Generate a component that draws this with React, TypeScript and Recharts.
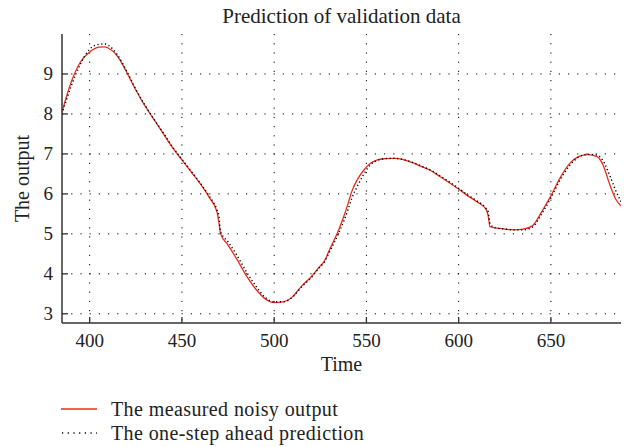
import { CartesianGrid, Label, Line, LineChart, XAxis, YAxis } from 'recharts'

// 時刻（サンプル番号）
const time = [
  385, 390, 395, 400, 405, 408, 410, 415, 420, 425, 430, 435, 440, 445, 450, 455, 460, 465, 469, 470,
  471, 475, 480, 485, 490, 495, 500, 505, 510, 515, 520, 525, 527, 530, 535, 538, 540, 542, 545, 548,
  552, 556, 560, 565, 570, 575, 580, 585, 590, 595, 600, 605, 610, 615, 616, 617, 620, 625, 630, 635,
  640, 645, 650, 655, 660, 665, 670, 675, 678, 682, 685, 688,
]

// 測定値（ノイズあり）
const measured = [
  8.05, 8.8, 9.3, 9.55, 9.67, 9.68, 9.65, 9.45, 9.05, 8.6, 8.2, 7.85, 7.5, 7.15, 6.85, 6.55, 6.25, 5.9, 5.55, 5.3,
  5.0, 4.72, 4.35, 3.95, 3.62, 3.38, 3.28, 3.3, 3.43, 3.7, 3.92, 4.2, 4.3, 4.6, 5.1, 5.47, 5.75, 6.05, 6.35, 6.56,
  6.76, 6.85, 6.88, 6.89, 6.86, 6.78, 6.68, 6.58, 6.43, 6.28, 6.12, 5.95, 5.8, 5.6, 5.45, 5.18, 5.15, 5.12, 5.1, 5.12,
  5.2, 5.55, 5.95, 6.4, 6.75, 6.93, 6.98, 6.93, 6.75, 6.22, 5.88, 5.7,
]

// 1ステップ先予測
const predicted = [
  8.0, 8.7, 9.25, 9.62, 9.74, 9.75, 9.72, 9.48, 9.08, 8.62, 8.22, 7.86, 7.52, 7.17, 6.87, 6.57, 6.27, 5.93, 5.6, 5.45,
  5.05, 4.8, 4.45, 4.05, 3.7, 3.42, 3.3, 3.3, 3.42, 3.68, 3.9, 4.18, 4.28, 4.55, 5.02, 5.35, 5.6, 5.88, 6.18, 6.45,
  6.72, 6.84, 6.88, 6.89, 6.86, 6.79, 6.69, 6.59, 6.45, 6.3, 6.14, 5.97, 5.82, 5.63, 5.55, 5.25, 5.15, 5.12, 5.1, 5.1,
  5.17, 5.5, 5.9, 6.35, 6.7, 6.92, 6.99, 6.97, 6.85, 6.45, 6.1, 5.8,
]

const xTicks = [400, 450, 500, 550, 600, 650]
const yTicks = [3, 4, 5, 6, 7, 8, 9]

const seriesNames = ['The measured noisy output', 'The one-step ahead prediction']

const FONT = '"Liberation Serif", "DejaVu Serif", serif'
const AXIS = '#333'
const TEXT = '#222'
const RED = '#ee2a1c'

const chartData = time.map((t, i) => ({ t, measured: measured[i], predicted: predicted[i] }))

// 内向きの目盛り線
const BottomTick = (props: any) => {
  const { x, y, payload } = props
  return (
    <g>
      <line x1={x} x2={x} y1={y} y2={y - 6} stroke={AXIS} strokeWidth={1.3} />
      <text x={x} y={y + 24} textAnchor="middle" fontSize={19} fontFamily={FONT} fill={TEXT}>
        {payload.value}
      </text>
    </g>
  )
}

const TopTick = (props: any) => {
  const { x, y } = props
  return <line x1={x} x2={x} y1={y} y2={y + 6} stroke={AXIS} strokeWidth={1.3} />
}

const LeftTick = (props: any) => {
  const { x, y, payload } = props
  return (
    <g>
      <line x1={x} x2={x + 6} y1={y} y2={y} stroke={AXIS} strokeWidth={1.3} />
      <text x={x - 9} y={y + 6} textAnchor="end" fontSize={19} fontFamily={FONT} fill={TEXT}>
        {payload.value}
      </text>
    </g>
  )
}

const RightTick = (props: any) => {
  const { x, y } = props
  return <line x1={x} x2={x - 6} y1={y} y2={y} stroke={AXIS} strokeWidth={1.3} />
}

const LegendBox = () => (
  <div
    style={{
      position: 'absolute',
      left: 61,
      top: 397,
      fontFamily: FONT,
      fontSize: 20,
      letterSpacing: 0.4,
      color: TEXT,
      lineHeight: '24px',
    }}
  >
    <div style={{ display: 'flex', alignItems: 'center', height: 24 }}>
      <svg width={50} height={24}>
        <line x1={0} x2={36} y1={12} y2={12} stroke={RED} strokeWidth={1.3} />
      </svg>
      <span>{seriesNames[0]}</span>
    </div>
    <div style={{ display: 'flex', alignItems: 'center', height: 24 }}>
      <svg width={50} height={24}>
        <line x1={1} x2={36} y1={12} y2={12} stroke="#000" strokeWidth={1.3} strokeDasharray="1.2 4.5" />
      </svg>
      <span>{seriesNames[1]}</span>
    </div>
  </div>
)

export default function App() {
  return (
    <div style={{ position: 'absolute', left: 0, top: 0, width: 629, height: 447, background: '#fff' }}>
      <div
        style={{
          position: 'absolute',
          left: 62,
          width: 559,
          top: 4,
          textAlign: 'center',
          fontFamily: FONT,
          fontSize: 21,
          color: TEXT,
        }}
      >
        Prediction of validation data
      </div>
      <LineChart
        width={629}
        height={447}
        data={chartData}
        margin={{ top: 34, right: 8, bottom: 74, left: 0 }}
      >
        <CartesianGrid
          xAxisId="b"
          yAxisId="l"
          stroke="#000"
          strokeDasharray="1.2 8"
          horizontalValues={yTicks}
          verticalValues={xTicks}
        />
        <XAxis
          xAxisId="b"
          dataKey="t"
          type="number"
          domain={[385, 688]}
          ticks={xTicks}
          allowDataOverflow
          height={50}
          tickSize={0}
          tickMargin={0}
          tickLine={false}
          tick={<BottomTick />}
          axisLine={{ stroke: AXIS, strokeWidth: 1.5 }}
        >
          <Label value="Time" position="insideBottom" offset={2} fontSize={20} fontFamily={FONT} fill={TEXT} />
        </XAxis>
        <XAxis
          xAxisId="t"
          orientation="top"
          dataKey="t"
          type="number"
          domain={[385, 688]}
          ticks={xTicks}
          allowDataOverflow
          height={0}
          tickSize={0}
          tickMargin={0}
          tickLine={false}
          tick={<TopTick />}
          axisLine={{ stroke: AXIS, strokeWidth: 1.5 }}
        />
        <YAxis
          yAxisId="l"
          type="number"
          domain={[2.77, 10]}
          ticks={yTicks}
          allowDataOverflow
          width={62}
          tickSize={0}
          tickMargin={0}
          tickLine={false}
          tick={<LeftTick />}
          axisLine={{ stroke: AXIS, strokeWidth: 1.5 }}
        >
          <Label
            value="The output"
            angle={-90}
            position="insideLeft"
            offset={22}
            textAnchor="middle"
            fontSize={20}
            fontFamily={FONT}
            fill={TEXT}
          />
        </YAxis>
        <YAxis
          yAxisId="r"
          orientation="right"
          type="number"
          domain={[2.77, 10]}
          ticks={yTicks}
          allowDataOverflow
          width={0}
          tickSize={0}
          tickMargin={0}
          tickLine={false}
          tick={<RightTick />}
          axisLine={{ stroke: AXIS, strokeWidth: 1.5 }}
        />
        <Line
          xAxisId="b"
          yAxisId="l"
          dataKey="measured"
          name={seriesNames[0]}
          type="monotone"
          stroke={RED}
          strokeWidth={1.3}
          dot={false}
          isAnimationActive={false}
        />
        <Line
          xAxisId="b"
          yAxisId="l"
          dataKey="predicted"
          name={seriesNames[1]}
          type="monotone"
          stroke="#000"
          strokeWidth={1.4}
          strokeDasharray="1.2 2.6"
          dot={false}
          isAnimationActive={false}
        />
      </LineChart>
      <LegendBox />
    </div>
  )
}
